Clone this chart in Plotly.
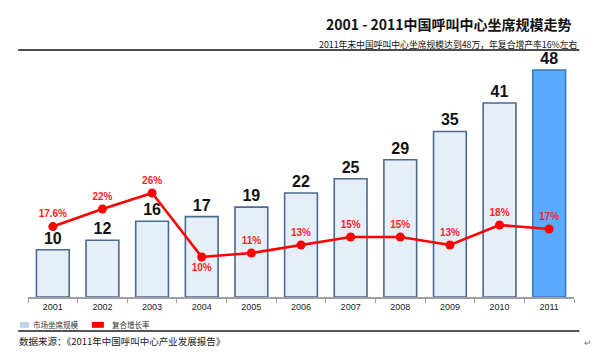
import plotly.graph_objects as go

years = ["2001", "2002", "2003", "2004", "2005", "2006", "2007", "2008", "2009", "2010", "2011"]
seats = [10, 12, 16, 17, 19, 22, 25, 29, 35, 41, 48]
growth = [17.6, 22, 26, 10, 11, 13, 15, 15, 13, 18, 17]
growth_labels = ["17.6%", "22%", "26%", "10%", "11%", "13%", "15%", "15%", "13%", "18%", "17%"]
growth_pos = ["top center", "top center", "top center", "bottom center", "top center", "top center",
              "top center", "top center", "top center", "top center", "top center"]

CJK = "Noto Sans CJK SC"
LAT = "Liberation Sans, Arial, sans-serif"

bar_fill = ["#E6EEF8"] * (len(years) - 1) + ["#5CAAFF"]
bar_line = ["#4A6A92"] * (len(years) - 1) + ["#3B78C2"]

fig = go.Figure()
fig.add_trace(go.Bar(
    x=years, y=seats, width=0.66,
    marker=dict(color=bar_fill, line=dict(color=bar_line, width=1.6)),
    text=[str(v) for v in seats], textposition="outside",
    textfont=dict(family=LAT, size=16, color="#111111", weight="bold"),
    cliponaxis=False, showlegend=False, yaxis="y", hoverinfo="skip",
))
fig.add_trace(go.Scatter(
    x=years, y=growth, mode="lines+markers+text",
    line=dict(color="#FF0000", width=2.6),
    marker=dict(color="#FF0000", size=9),
    text=growth_labels, textposition=growth_pos,
    textfont=dict(family=LAT, size=10, color="#FF1E1E", weight="bold"),
    cliponaxis=False, showlegend=False, yaxis="y2", hoverinfo="skip",
))

fig.update_layout(
    width=600, height=361,
    margin=dict(l=28, r=26, t=60, b=64),
    paper_bgcolor="white", plot_bgcolor="white",
    xaxis=dict(type="category", range=[-0.5, 10.5], showgrid=False,
               showline=True, linecolor="#A0A0A0", linewidth=1.5,
               ticks="outside", tickson="boundaries", ticklen=4, tickcolor="#A0A0A0",
               tickfont=dict(family=LAT, size=9, color="#222222")),
    yaxis=dict(range=[0, 50.1], visible=False, showgrid=False),
    yaxis2=dict(range=[0, 59.25], visible=False, overlaying="y", showgrid=False),
    font=dict(family=CJK),
)

# Title and subtitle
fig.add_annotation(xref="paper", yref="paper", x=1.0, y=1.15, xanchor="right", yanchor="middle",
                   text="2001 - 2011中国呼叫中心坐席规模走势", showarrow=False,
                   font=dict(family=CJK, size=14, color="#111111", weight="bold"))
fig.add_annotation(xref="paper", yref="paper", x=1.01, y=1.065, xanchor="right", yanchor="middle",
                   text="2011年末中国呼叫中心坐席规模达到48万，年复合增产率16%左右", showarrow=False,
                   font=dict(family=CJK, size=8.8, color="#111111"))
# underline of header
fig.add_shape(type="line", xref="paper", yref="paper", x0=-0.018, x1=1.01, y0=1.042, y1=1.042,
              line=dict(color="#111111", width=1.5))

# Legend (drawn manually)
fig.add_shape(type="rect", xref="paper", yref="paper", x0=-0.015, x1=0.002, y0=-0.105, y1=-0.13,
              line=dict(width=0), fillcolor="#BFD3EC")
fig.add_annotation(xref="paper", yref="paper", x=0.006, y=-0.118, xanchor="left", yanchor="middle",
                   text="市场坐席规模", showarrow=False, font=dict(family=CJK, size=7.5, color="#333333"))
fig.add_shape(type="rect", xref="paper", yref="paper", x0=0.117, x1=0.139, y0=-0.105, y1=-0.13,
              line=dict(width=0), fillcolor="#FF0000")
fig.add_annotation(xref="paper", yref="paper", x=0.15, y=-0.118, xanchor="left", yanchor="middle",
                   text="复合增长率", showarrow=False, font=dict(family=CJK, size=7.5, color="#333333"))
fig.add_shape(type="line", xref="paper", yref="paper", x0=-0.018, x1=1.01, y0=-0.143, y1=-0.143,
              line=dict(color="#555555", width=2))
fig.add_annotation(xref="paper", yref="paper", x=-0.02, y=-0.185, xanchor="left", yanchor="middle",
                   text="数据来源：《2011年中国呼叫中心产业发展报告》", showarrow=False,
                   font=dict(family=CJK, size=9.5, color="#222222"))
fig.add_annotation(xref="paper", yref="paper", x=1.015, y=-0.19, xanchor="left", yanchor="middle",
                   text="↵", showarrow=False, font=dict(family=CJK, size=9, color="#777777"))

fig.write_html("out.html", config={"displayModeBar": False},
               post_script="document.body.style.margin='0';")
